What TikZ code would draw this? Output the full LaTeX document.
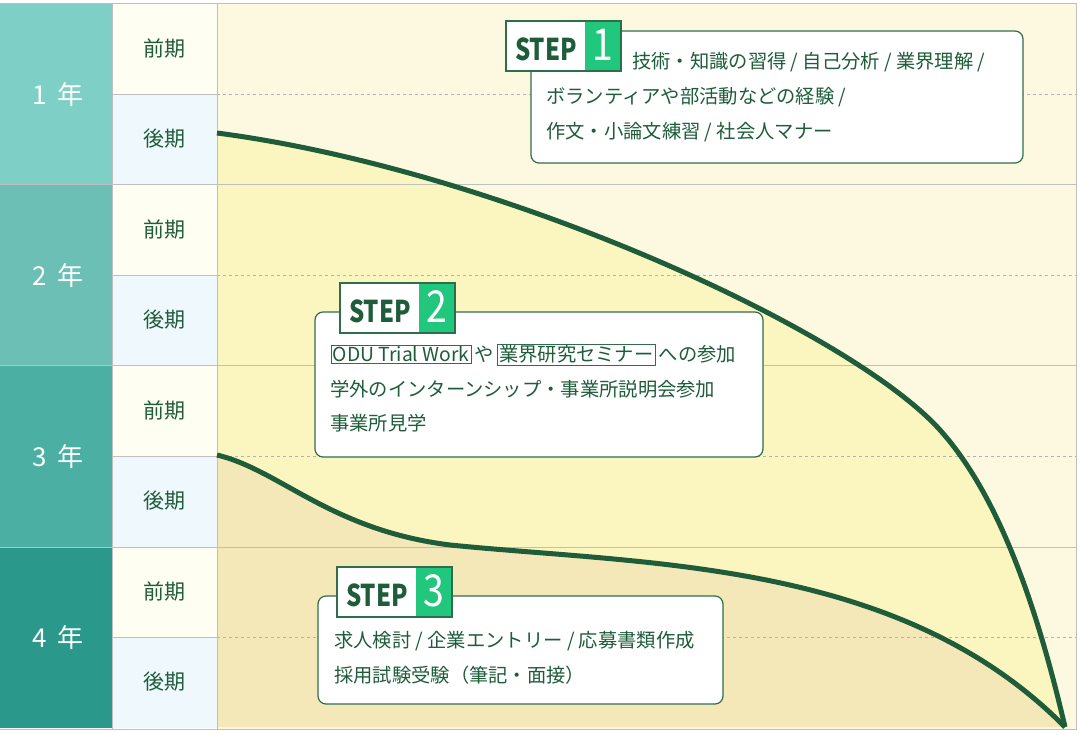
\documentclass[tikz,border=0pt]{standalone}
\usepackage{fontspec}
\setmainfont{Noto Sans CJK JP}
\definecolor{tg}{HTML}{1E5C3A}
\definecolor{bd}{HTML}{2F6E4A}
\definecolor{gr}{HTML}{22C77E}
\definecolor{yA}{HTML}{7ECFC6}\definecolor{yB}{HTML}{6CBFB5}\definecolor{yC}{HTML}{4BAFA3}\definecolor{yD}{HTML}{2A998C}
\definecolor{hA}{HTML}{FEFEF2}\definecolor{hB}{HTML}{EEF8FD}
\definecolor{bg}{HTML}{FDF8E0}\definecolor{midf}{HTML}{FBF6C0}\definecolor{lowf}{HTML}{F5E8B8}
\tikzset{
 txt/.style={anchor=base west,text=tg,font=\fontsize{19.3}{19.3}\selectfont,inner sep=0},
 sbox/.style={draw=bd,line width=1.2pt,fill=white,rounded corners=8pt},
 half/.style={text=tg,font=\fontsize{21}{21}\selectfont},
 yr/.style={text=white,font=\fontsize{26}{26}\selectfont},
 kw/.style={draw=bd,line width=0.6pt,inner sep=1.5pt,anchor=base west,text=tg,font=\fontsize{19.3}{19.3}\selectfont}
}
\begin{document}
\begin{tikzpicture}[x=1pt,y=-1pt]
\useasboundingbox (0,0) rectangle (1080,735);
\fill[white] (0,0) rectangle (1080,735);
\fill[bg] (217,4) rectangle (1076,729);
\foreach \i/\c in {0/yA,1/yB,2/yC,3/yD}{
 \fill[\c] (0,4+181*\i) rectangle (112,185+181*\i);
 \fill[hA] (112,4+181*\i) rectangle (217,94.5+181*\i);
 \fill[hB] (112,94.5+181*\i) rectangle (217,185+181*\i);
}
\fill[midf] (217,133) .. controls (500,170) and (850,330) .. (940,430) .. controls (1003,500) and (1040,620) .. (1065,727) -- (217,727) -- cycle;
\fill[lowf] (217,455) .. controls (280,470) and (330,530) .. (450,545) .. controls (650,565) and (900,560) .. (1065,727) -- (217,727) -- cycle;
\foreach \i in {0,1,2,3}{
 \draw[gray!60,dashed,line width=0.6pt] (217,94.5+181*\i) -- (1076,94.5+181*\i);
 \draw[gray!50,line width=0.8pt] (112,94.5+181*\i) -- (217,94.5+181*\i);
}
\foreach \i in {1,2,3}{\draw[gray!50,line width=1pt] (0,4+181*\i) -- (1076,4+181*\i);}
\draw[gray!50,line width=1pt] (0,4) -- (1076,4) -- (1076,729) -- (0,729);
\draw[gray!50,line width=0.8pt] (112,4) -- (112,729) (217,4) -- (217,729);
\draw[tg,line width=5pt] (217,133) .. controls (500,170) and (850,330) .. (940,430) .. controls (1003,500) and (1040,620) .. (1065,727);
\draw[tg,line width=5pt] (217,455) .. controls (280,470) and (330,530) .. (450,545) .. controls (650,565) and (900,560) .. (1065,727);
\foreach \i/\n in {0/1,1/2,2/3,3/4}{
 \node[yr] (y\n) at (58,94.5+181*\i) {\n\ \,年};
 \node[half] (a\n) at (164,49+181*\i) {前期};
 \node[half] (b\n) at (164,139+181*\i) {後期};
}
\newcommand\steptag[3]{%
 \fill[white] (#1,#2) rectangle (#1+115,#2+50);
 \fill[gr] (#1+79,#2) rectangle (#1+115,#2+50);
 \draw[bd,line width=1.2pt] (#1,#2) rectangle (#1+115,#2+50);
 \node[text=tg,font=\fontsize{30}{30}\bfseries\selectfont,xscale=0.8] (st#3) at (#1+40,#2+28) {STEP};
 \node[text=white,font=\fontsize{44}{44}\selectfont,xscale=0.85] (sn#3) at (#1+97,#2+24) {#3};
}
\draw[sbox] (531,31) rectangle (1023,163);
\steptag{506}{21}{1}
\node[txt] (t11) at (632,69) {技術・知識の習得 / 自己分析 / 業界理解 /};
\node[txt] (t12) at (546,104) {ボランティアや部活動などの経験 /};
\node[txt] (t13) at (546,139) {作文・小論文練習 / 社会人マナー};
\draw[sbox] (315,312) rectangle (763,457);
\steptag{340}{283}{2}
\node[kw] (k1) at (331,362) {ODU Trial Work};
\node[txt] (ya) at (k1.base east) {\,や\,};
\node[kw] (k2) at (ya.base east) {業界研究セミナー};
\node[txt] (t21) at (k2.base east) {\,への参加};
\node[txt] (t22) at (330,397) {学外のインターンシップ・事業所説明会参加};
\node[txt] (t23) at (330,431) {事業所見学};
\draw[sbox] (318,596) rectangle (723,704);
\steptag{337}{567}{3}
\node[txt] (t31) at (334,647) {求人検討 / 企業エントリー / 応募書類作成};
\node[txt] (t32) at (334,682) {採用試験受験（筆記・面接）};
\end{tikzpicture}
\end{document}
